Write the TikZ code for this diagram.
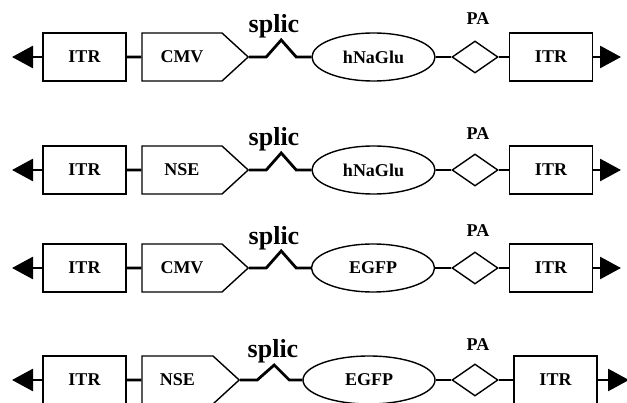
\documentclass[tikz,border=0pt]{standalone}
\usepackage{fontspec}
\setmainfont{Liberation Serif}
\usetikzlibrary{arrows.meta,shapes.geometric,shapes.symbols}

\begin{document}
\begin{tikzpicture}[x=1pt, y=-1pt,
    itr/.style={draw, line width=1.4pt, minimum width=83pt, minimum height=48pt, inner sep=0pt, font=\bfseries\fontsize{18}{18}\selectfont},
    prom/.style={draw, signal, signal to=east, signal pointer angle=85, line width=1.4pt, minimum height=48pt, inner sep=0pt, text width=80pt, align=center, font=\bfseries\fontsize{18}{18}\selectfont},
    gene/.style={draw, ellipse, line width=1.4pt, minimum width=123pt, minimum height=48pt, inner sep=0pt, font=\bfseries\fontsize{18}{18}\selectfont},
    pa/.style={draw, diamond, line width=1.4pt, minimum width=46pt, minimum height=32pt, inner sep=0pt},
    lnk/.style={line width=2.8pt},
    arr/.style={line width=2.8pt, -{Triangle[length=21pt,width=22pt]}},
    lbl/.style={font=\bfseries\fontsize{26}{26}\selectfont, anchor=base, inner sep=0pt},
    palbl/.style={font=\bfseries\fontsize{18}{18}\selectfont, anchor=base, inner sep=0pt}
]
\useasboundingbox (0,0) rectangle (627,403);

% row 1
\node[itr] (itrl1) at (84.5,57) {ITR};
\node[prom] (prom1) at (182,57) {CMV};
\node[gene] (gene1) at (373.5,57) {hNaGlu};
\node[pa] (pa1) at (475,57) {};
\node[itr] (itrr1) at (551,57) {ITR};
\node[lbl] (sp1) at (274,33) {splic};
\node[palbl] (pl1) at (478,25) {PA};
\coordinate (el1) at (12,57);
\coordinate (er1) at (621,57);

% row 2
\node[itr] (itrl2) at (84.5,170) {ITR};
\node[prom] (prom2) at (182,170) {NSE};
\node[gene] (gene2) at (373.5,170) {hNaGlu};
\node[pa] (pa2) at (475,170) {};
\node[itr] (itrr2) at (551,170) {ITR};
\node[lbl] (sp2) at (274,146) {splic};
\node[palbl] (pl2) at (478,140) {PA};
\coordinate (el2) at (12,170);
\coordinate (er2) at (621,170);

% row 3
\node[itr] (itrl3) at (84.5,268) {ITR};
\node[prom] (prom3) at (182,268) {CMV};
\node[gene] (gene3) at (373,268) {EGFP};
\node[pa] (pa3) at (475,268) {};
\node[itr] (itrr3) at (551,268) {ITR};
\node[lbl] (sp3) at (274,245) {splic};
\node[palbl] (pl3) at (478,237) {PA};
\coordinate (el3) at (12,268);
\coordinate (er3) at (621,268);

% row 4
\node[itr] (itrl4) at (84.5,380) {ITR};
\node[prom, text width=71pt] (prom4) at (177.5,380) {NSE};
\node[gene, minimum width=132pt] (gene4) at (369,380) {EGFP};
\node[pa] (pa4) at (475,380) {};
\node[itr] (itrr4) at (555.5,380) {ITR};
\node[lbl] (sp4) at (273,358) {splic};
\node[palbl] (pl4) at (478,351) {PA};
\coordinate (el4) at (12,380);
\coordinate (er4) at (629,380);

\draw[arr] (itrl1) -- (el1);
\draw[lnk] (itrl1) -- (prom1);
\draw[lnk] (prom1.east) -- ++(17,0) -- ++(15,-17) -- ++(15,17) -- (gene1.west);
\draw[lnk] (gene1) -- (pa1);
\draw[lnk] (pa1) -- (itrr1);
\draw[arr] (itrr1) -- (er1);

\draw[arr] (itrl2) -- (el2);
\draw[lnk] (itrl2) -- (prom2);
\draw[lnk] (prom2.east) -- ++(17,0) -- ++(15,-17) -- ++(15,17) -- (gene2.west);
\draw[lnk] (gene2) -- (pa2);
\draw[lnk] (pa2) -- (itrr2);
\draw[arr] (itrr2) -- (er2);

\draw[arr] (itrl3) -- (el3);
\draw[lnk] (itrl3) -- (prom3);
\draw[lnk] (prom3.east) -- ++(17,0) -- ++(15,-17) -- ++(15,17) -- (gene3.west);
\draw[lnk] (gene3) -- (pa3);
\draw[lnk] (pa3) -- (itrr3);
\draw[arr] (itrr3) -- (er3);

\draw[arr] (itrl4) -- (el4);
\draw[lnk] (itrl4) -- (prom4);
\draw[lnk] (prom4.east) -- ++(17,0) -- ++(17,-15) -- ++(15,15) -- (gene4.west);
\draw[lnk] (gene4) -- (pa4);
\draw[lnk] (pa4) -- (itrr4);
\draw[arr] (itrr4) -- (er4);
\end{tikzpicture}
\end{document}
